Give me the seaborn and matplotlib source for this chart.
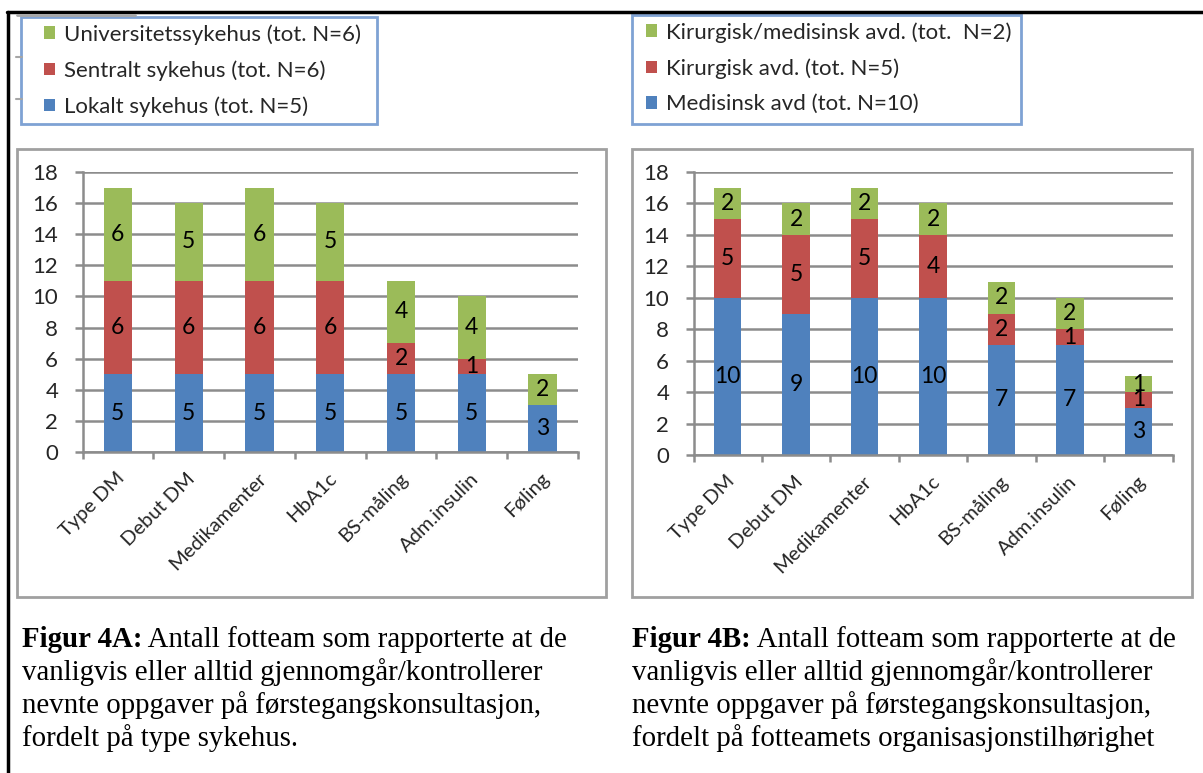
import matplotlib
matplotlib.use("Agg")
import matplotlib.pyplot as plt
from matplotlib.patches import Rectangle, Patch
from matplotlib.lines import Line2D
from matplotlib.transforms import ScaledTranslation
import numpy as np
import pandas as pd
import seaborn as sns

# ---- data ----
categories = ["Type DM", "Debut DM", "Medikamenter", "HbA1c", "BS-måling", "Adm.insulin", "Føling"]

# Figur 4A: type sykehus
lokalt = [5, 5, 5, 5, 5, 5, 3]
sentralt = [6, 6, 6, 6, 2, 1, 0]
universitet = [6, 5, 6, 5, 4, 4, 2]
labels_a = ["Lokalt sykehus (tot. N=5)", "Sentralt sykehus (tot. N=6)", "Universitetssykehus (tot. N=6)"]

# Figur 4B: organisasjonstilhørighet
medisinsk = [10, 9, 10, 10, 7, 7, 3]
kirurgisk = [5, 5, 5, 4, 2, 1, 1]
kir_med = [2, 2, 2, 2, 2, 2, 1]
labels_b = ["Medisinsk avd (tot. N=10)", "Kirurgisk avd. (tot. N=5)", "Kirurgisk/medisinsk avd. (tot.  N=2)"]

y_ticks = list(range(0, 19, 2))

caption_a = ["Figur 4A:", " Antall fotteam som rapporterte at de",
             "vanligvis eller alltid gjennomgår/kontrollerer",
             "nevnte oppgaver på førstegangskonsultasjon,",
             "fordelt på type sykehus."]
caption_b = ["Figur 4B:", " Antall fotteam som rapporterte at de",
             "vanligvis eller alltid gjennomgår/kontrollerer",
             "nevnte oppgaver på førstegangskonsultasjon,",
             "fordelt på fotteamets organisasjonstilhørighet"]

colors = ["#4F81BD", "#C0504D", "#9BBB59"]

# ---- figure setup ----
W, H = 1203, 773
sns.set_theme(style="white")
plt.rcParams["font.family"] = ["Lato", "DejaVu Sans"]

fig = plt.figure(figsize=(W / 100, H / 100), dpi=100)
fig.patch.set_facecolor("white")


def fx(x):
    return x / W


def fy(y):
    return 1 - y / H


def frame(x0, y0, x1, y1, **kw):
    fig.add_artist(Rectangle((fx(x0), fy(y1)), fx(x1) - fx(x0), fy(y0) - fy(y1),
                             transform=fig.transFigure, fill=False, **kw))


def line(xs, ys, **kw):
    fig.add_artist(Line2D([fx(x) for x in xs], [fy(y) for y in ys],
                          transform=fig.transFigure, **kw))


# page rules
line([7, W], [12, 12], color="black", lw=2.5)
line([8, 8], [12, H], color="black", lw=2.5)
line([17, 135], [14.5, 14.5], color="#a6a6a6", lw=2)
line([16, 22], [57, 57], color="#a6a6a6", lw=1.5)
line([16, 22], [99, 99], color="#a6a6a6", lw=1.5)

GRID = "#8c8c8c"


def panel(ax_px, box_px, leg_box_px, leg_anchor_px, series, series_labels):
    frame(*box_px, edgecolor="#a0a0a0", lw=2)
    frame(*leg_box_px, edgecolor="#7fa2d4", lw=2)

    l, t, r, b = ax_px
    ax = fig.add_axes([fx(l), fy(b), fx(r) - fx(l), fy(t) - fy(b)])
    ax.set_facecolor("white")

    vals = [np.array(s, dtype=float) for s in series]
    cums = np.cumsum(vals, axis=0)
    # stacked bars: draw cumulative totals from the top segment down
    for k in range(len(vals) - 1, -1, -1):
        df = pd.DataFrame({"oppgave": categories, "antall": cums[k]})
        sns.barplot(data=df, x="oppgave", y="antall", order=categories,
                    color=colors[k], saturation=1, width=0.40, linewidth=0, ax=ax)

    for k in range(len(vals)):
        bottoms = cums[k] - vals[k]
        for i, v in enumerate(vals[k]):
            if v > 0:
                ax.text(i, bottoms[i] + v / 2, f"{int(v)}", ha="center", va="center",
                        fontsize=16.5, color="black")

    ax.set_xlim(-0.5, 6.5)
    ax.set_ylim(0, 18)
    ax.set_yticks(y_ticks)
    ax.set_xlabel("")
    ax.set_ylabel("")
    ax.set_axisbelow(True)
    ax.yaxis.grid(True, color=GRID, lw=1.8)
    ax.xaxis.grid(False)
    for s in ["top", "right"]:
        ax.spines[s].set_visible(False)
    for s in ["left", "bottom"]:
        ax.spines[s].set_color(GRID)
        ax.spines[s].set_linewidth(1.8)
    ax.tick_params(axis="y", which="major", left=True, length=5.5, width=1.8, color=GRID,
                   labelsize=16, pad=12)
    ax.set_xticks(range(len(categories)))
    ax.set_xticks(np.arange(-0.5, len(categories), 1), minor=True)
    ax.tick_params(axis="x", which="major", bottom=False, length=0, pad=17)
    ax.tick_params(axis="x", which="minor", bottom=True, length=4.8, width=1.8, color=GRID)
    ax.set_xticklabels(categories, rotation=45, ha="right", va="center",
                       rotation_mode="anchor", fontsize=14.5)
    shift = ScaledTranslation(4 / 100, 0, fig.dpi_scale_trans)
    for lab in ax.get_xticklabels():
        lab.set_transform(lab.get_transform() + shift)

    handles = [Patch(facecolor=c, edgecolor="none") for c in colors[::-1]]
    fig.legend(handles, series_labels[::-1], loc="upper left",
               bbox_to_anchor=(fx(leg_anchor_px[0]), fy(leg_anchor_px[1])),
               frameon=False, fontsize=16, handlelength=0.5, handleheight=0.5,
               handletextpad=0.38, labelspacing=0.7, borderaxespad=0, borderpad=0)
    return ax


panel((82.5, 172, 578, 452), (16.5, 149, 606, 597), (21, 17, 377, 124), (44, 24),
      [lokalt, sentralt, universitet], labels_a)
panel((693.5, 172, 1172.5, 455), (632, 149, 1192, 597), (632, 15, 1021, 124), (646, 22),
      [medisinsk, kirurgisk, kir_med], labels_b)

# captions
renderer = fig.canvas.get_renderer()
CAP_FONT = ["Liberation Serif", "DejaVu Serif"]
CAP_SIZE = 20.8


def caption(x, lines, baselines):
    bold = fig.text(fx(x), fy(baselines[0]), lines[0], fontsize=CAP_SIZE, fontweight="bold",
                    family=CAP_FONT, va="baseline", ha="left", color="black")
    ext = bold.get_window_extent(renderer=renderer)
    fig.text(ext.x1 / fig.bbox.width, fy(baselines[0]), lines[1], fontsize=CAP_SIZE,
             family=CAP_FONT, va="baseline", ha="left", color="black")
    for txt, yb in zip(lines[2:], baselines[1:]):
        fig.text(fx(x), fy(yb), txt, fontsize=CAP_SIZE, family=CAP_FONT,
                 va="baseline", ha="left", color="black")


baselines = [647, 680, 713, 746]
caption(22, caption_a, baselines)
caption(632, caption_b, baselines)

fig.savefig("out.png", dpi=100, facecolor="white")
